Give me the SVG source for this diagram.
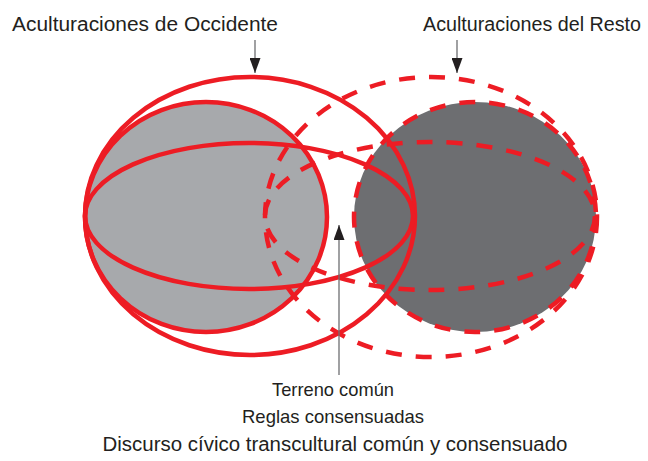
<svg xmlns="http://www.w3.org/2000/svg" width="648" height="461" viewBox="0 0 648 461">
  <style>
    .red { fill: none; stroke: #ed1c24; stroke-width: 4.5; }
    .dash { stroke-dasharray: 16 14; }
    .lbl { font-family: "Liberation Sans", Arial, sans-serif; font-size: 20px; fill: #231f20; }
    .blbl { font-family: "Liberation Sans", Arial, sans-serif; font-size: 19px; fill: #231f20; text-anchor: middle; }
    .conn { stroke: #6d6e71; stroke-width: 1.3; fill: none; }
  </style>
  <defs>
    <marker id="head" viewBox="0 0 15 11" refX="15" refY="5.5" markerWidth="15" markerHeight="11" markerUnits="userSpaceOnUse" orient="auto">
      <path d="M0,0 L15,5.5 L0,11 Z" fill="#231f20"/>
    </marker>
  </defs>
  <rect width="648" height="461" fill="#ffffff"/>

  <g id="fills">
    <ellipse id="occidente-fill" cx="206" cy="217" rx="121" ry="115" fill="#a7a9ac"/>
    <ellipse id="resto-fill" cx="475" cy="217" rx="121" ry="115" fill="#6d6e71"/>
  </g>

  <g id="occidente-circle">
    <ellipse class="red" cx="206" cy="217" rx="121" ry="115"/>
  </g>
  <g id="resto-circle">
    <ellipse class="red dash" cx="475" cy="217" rx="121" ry="115"/>
  </g>
  <g id="occidente-outer">
    <ellipse class="red" cx="250" cy="216" rx="165" ry="139"/>
  </g>
  <g id="occidente-band">
    <ellipse class="red" cx="249" cy="216" rx="164" ry="73"/>
  </g>
  <g id="resto-outer">
    <ellipse class="red dash" cx="431" cy="217" rx="166" ry="140"/>
  </g>
  <g id="resto-band">
    <ellipse class="red dash" cx="430" cy="216" rx="165" ry="74"/>
  </g>

  <g id="label-occidente">
    <text class="lbl" x="12" y="31" textLength="266" lengthAdjust="spacingAndGlyphs">Aculturaciones de Occidente</text>
  </g>
  <g id="label-resto">
    <text class="lbl" x="423" y="31" textLength="218" lengthAdjust="spacingAndGlyphs">Aculturaciones del Resto</text>
  </g>
  <g id="label-comun">
    <text class="blbl" x="333" y="396" textLength="122" lengthAdjust="spacingAndGlyphs">Terreno común</text>
    <text class="blbl" x="333" y="423" textLength="182" lengthAdjust="spacingAndGlyphs">Reglas consensuadas</text>
    <text class="blbl" x="335" y="451" style="font-size:20px" textLength="465" lengthAdjust="spacingAndGlyphs">Discurso cívico transcultural común y consensuado</text>
  </g>

  <g id="connectors">
    <line class="conn" x1="255" y1="40" x2="255" y2="73" marker-end="url(#head)"/>
    <line class="conn" x1="457" y1="40" x2="457" y2="73" marker-end="url(#head)"/>
    <line class="conn" x1="339" y1="375" x2="339" y2="225" marker-end="url(#head)"/>
  </g>
</svg>
